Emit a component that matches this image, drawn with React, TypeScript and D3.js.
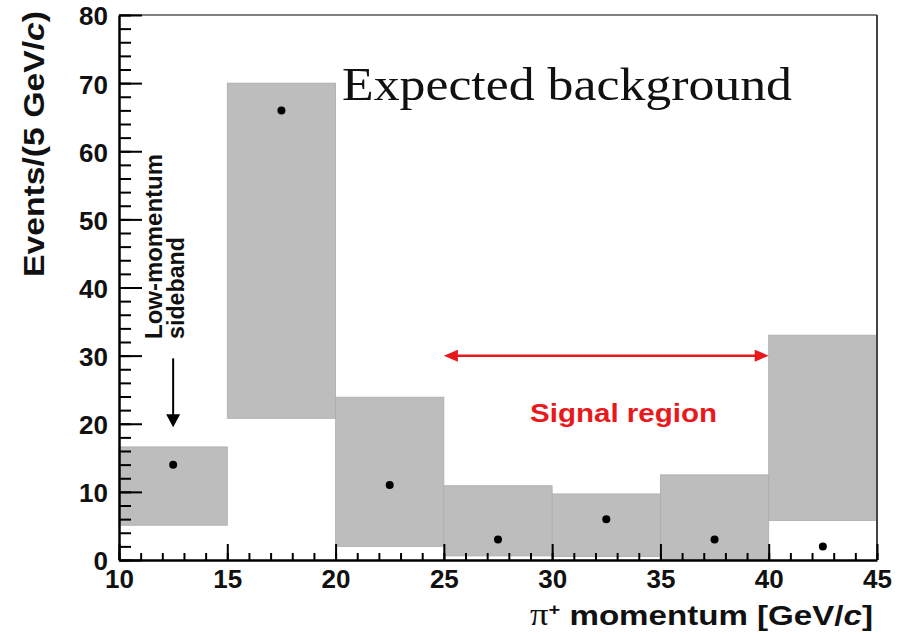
import * as d3 from "d3";
import React, { useRef, useEffect } from "react";

// bins of pi+ momentum (GeV/c), 5 GeV wide
const binStarts = [10, 15, 20, 25, 30, 35, 40];
const binWidth = 5;
// expected background band (low / high edge, events)
const bandLow = [5.1, 20.8, 2.0, 0.6, 0.5, 0.1, 5.8];
const bandHigh = [16.6, 70.0, 23.9, 10.9, 9.7, 12.5, 33.0];
// observed events (dots)
const observed = [14, 66, 11, 3, 6, 3, 2];

const xMajorTicks = [10, 15, 20, 25, 30, 35, 40, 45];
const yMajorTicks = [0, 10, 20, 30, 40, 50, 60, 70, 80];

// annotations (data coords)
const signalRange = [25, 40];
const signalLevel = 30;
const sidebandArrow = { x: 12.5, from: 29.6, to: 19.5 };

const W = 903;
const H = 634;

const App = () => {
  const ref = useRef<SVGSVGElement | null>(null);

  useEffect(() => {
    if (!ref.current) return;
    const svg = d3.select(ref.current);
    svg.selectAll("*").remove();

    const x = d3.scaleLinear().domain([10, 45]).range([119, 877]);
    const y = d3.scaleLinear().domain([0, 80]).range([560, 15]);
    const sans = "'Liberation Sans', Arial, Helvetica, sans-serif";
    const serif = "'Liberation Serif', 'Times New Roman', serif";

    svg.append("rect").attr("width", W).attr("height", H).attr("fill", "#fff");

    // background bands
    svg
      .append("g")
      .selectAll("rect")
      .data(binStarts)
      .enter()
      .append("rect")
      .attr("x", (d) => x(d))
      .attr("width", (d) => x(d + binWidth) - x(d))
      .attr("y", (d, i) => y(bandHigh[i]))
      .attr("height", (d, i) => y(bandLow[i]) - y(bandHigh[i]))
      .attr("fill", "#bdbdbd")
      .attr("stroke", "#acacac")
      .attr("stroke-width", 0.8);

    // observed points
    svg
      .append("g")
      .selectAll("circle")
      .data(binStarts)
      .enter()
      .append("circle")
      .attr("cx", (d) => x(d + binWidth / 2))
      .attr("cy", (d, i) => y(observed[i]))
      .attr("r", 4)
      .attr("fill", "#000");

    // frame top / right
    svg
      .append("line")
      .attr("x1", x(10))
      .attr("x2", x(45))
      .attr("y1", y(80))
      .attr("y2", y(80))
      .attr("stroke", "#808080")
      .attr("stroke-width", 2);
    svg
      .append("line")
      .attr("x1", x(45))
      .attr("x2", x(45))
      .attr("y1", y(80))
      .attr("y2", y(0))
      .attr("stroke", "#444")
      .attr("stroke-width", 2);

    // x axis: minor then major
    const xMinor = d3.range(10, 45.01, 1);
    const gxm = svg
      .append("g")
      .attr("transform", `translate(0,${y(0)})`)
      .call(d3.axisBottom(x).tickValues(xMinor).tickSize(-7).tickSizeOuter(0).tickFormat(() => ""));
    gxm.select(".domain").remove();
    gxm.selectAll("line").attr("stroke", "#000").attr("stroke-width", 2);

    const gx = svg
      .append("g")
      .attr("transform", `translate(0,${y(0)})`)
      .call(
        d3
          .axisBottom(x)
          .tickValues(xMajorTicks)
          .tickSize(-16)
          .tickSizeOuter(0)
          .tickPadding(10)
          .tickFormat(d3.format("d"))
      );
    gx.select(".domain").attr("stroke", "#000").attr("stroke-width", 2.5);
    gx.selectAll("line").attr("stroke", "#000").attr("stroke-width", 2);
    gx.selectAll("text")
      .attr("fill", "#111")
      .style("font-family", sans)
      .style("font-weight", "bold")
      .style("font-size", "26px");

    // y axis: minor then major
    const yMinor = d3.range(0, 80.01, 2);
    const gym = svg
      .append("g")
      .attr("transform", `translate(${x(10)},0)`)
      .call(d3.axisLeft(y).tickValues(yMinor).tickSize(-12).tickSizeOuter(0).tickFormat(() => ""));
    gym.select(".domain").remove();
    gym.selectAll("line").attr("stroke", "#000").attr("stroke-width", 2);

    const gy = svg
      .append("g")
      .attr("transform", `translate(${x(10)},0)`)
      .call(
        d3
          .axisLeft(y)
          .tickValues(yMajorTicks)
          .tickSize(-23)
          .tickSizeOuter(0)
          .tickPadding(11)
          .tickFormat(d3.format("d"))
      );
    gy.select(".domain").attr("stroke", "#000").attr("stroke-width", 2.5);
    gy.selectAll("line").attr("stroke", "#000").attr("stroke-width", 2);
    gy.selectAll("text")
      .attr("fill", "#111")
      .attr("dy", "0.38em")
      .style("font-family", sans)
      .style("font-weight", "bold")
      .style("font-size", "26px");

    // y axis title
    const yt = svg
      .append("text")
      .attr("transform", `translate(44,277) rotate(-90)`)
      .attr("text-anchor", "start")
      .attr("textLength", 266)
      .attr("lengthAdjust", "spacingAndGlyphs")
      .style("font-family", sans)
      .style("font-weight", "bold")
      .style("font-size", "29px")
      .attr("fill", "#111");
    yt.append("tspan").text("Events/(5 GeV/");
    yt.append("tspan").style("font-style", "italic").text("c");
    yt.append("tspan").text(")");

    // x axis title
    const xt = svg
      .append("text")
      .attr("x", 530)
      .attr("y", 625)
      .attr("textLength", 343)
      .attr("lengthAdjust", "spacingAndGlyphs")
      .style("font-family", sans)
      .style("font-weight", "bold")
      .style("font-size", "28px")
      .attr("fill", "#111");
    xt.append("tspan").style("font-family", serif).style("font-weight", "normal").style("font-size", "31px").text("π");
    xt.append("tspan").attr("dy", -10).style("font-size", "17px").text("+");
    xt.append("tspan").attr("dy", 10).text(" momentum [GeV/");
    xt.append("tspan").style("font-style", "italic").text("c");
    xt.append("tspan").text("]");

    // Expected background label
    svg
      .append("text")
      .attr("x", 342)
      .attr("y", 100)
      .attr("textLength", 450)
      .attr("lengthAdjust", "spacingAndGlyphs")
      .style("font-family", serif)
      .style("font-size", "46px")
      .attr("fill", "#111")
      .text("Expected background");

    // signal region double arrow
    const red = "#e8191c";
    const ay = y(signalLevel);
    const ax1 = x(signalRange[0]);
    const ax2 = x(signalRange[1]);
    svg
      .append("line")
      .attr("x1", ax1 + 8)
      .attr("x2", ax2 - 8)
      .attr("y1", ay)
      .attr("y2", ay)
      .attr("stroke", red)
      .attr("stroke-width", 2.5);
    svg
      .append("path")
      .attr("d", `M${ax1},${ay} L${ax1 + 14},${ay - 6} L${ax1 + 14},${ay + 6} Z`)
      .attr("fill", red);
    svg
      .append("path")
      .attr("d", `M${ax2},${ay} L${ax2 - 14},${ay - 6} L${ax2 - 14},${ay + 6} Z`)
      .attr("fill", red);
    svg
      .append("text")
      .attr("x", 530)
      .attr("y", 422)
      .attr("textLength", 187)
      .attr("lengthAdjust", "spacingAndGlyphs")
      .style("font-family", sans)
      .style("font-weight", "bold")
      .style("font-size", "26px")
      .attr("fill", red)
      .text("Signal region");

    // low-momentum sideband annotation
    const sx = x(sidebandArrow.x);
    const sy1 = y(sidebandArrow.from);
    const sy2 = y(sidebandArrow.to);
    svg
      .append("line")
      .attr("x1", sx)
      .attr("x2", sx)
      .attr("y1", sy1)
      .attr("y2", sy2 - 10)
      .attr("stroke", "#000")
      .attr("stroke-width", 2);
    svg
      .append("path")
      .attr("d", `M${sx},${sy2} L${sx - 7},${sy2 - 13} L${sx + 7},${sy2 - 13} Z`)
      .attr("fill", "#000");
    svg
      .append("text")
      .attr("transform", `translate(162,339) rotate(-90)`)
      .attr("textLength", 185)
      .attr("lengthAdjust", "spacingAndGlyphs")
      .style("font-family", sans)
      .style("font-weight", "bold")
      .style("font-size", "23px")
      .attr("fill", "#111")
      .text("Low-momentum");
    svg
      .append("text")
      .attr("transform", `translate(184,339) rotate(-90)`)
      .attr("textLength", 102)
      .attr("lengthAdjust", "spacingAndGlyphs")
      .style("font-family", sans)
      .style("font-weight", "bold")
      .style("font-size", "23px")
      .attr("fill", "#111")
      .text("sideband");
  }, []);

  return (
    <svg
      ref={ref}
      width={W}
      height={H}
      style={{ position: "absolute", left: 0, top: 0, display: "block" }}
    />
  );
};

export default App;
